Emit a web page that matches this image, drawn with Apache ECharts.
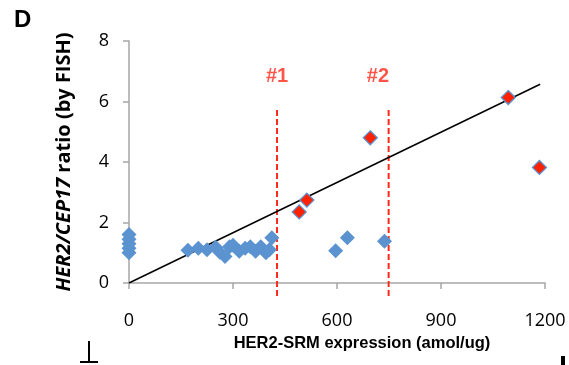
<!DOCTYPE html>
<html>
<head>
<meta charset="utf-8">
<script src="https://cdn.jsdelivr.net/npm/echarts@6/dist/echarts.min.js"></script>
<style>html,body{margin:0;padding:0;background:#fff}#c{width:569px;height:365px}</style>
</head>
<body>
<div id="c"></div>
<script>
// Data
const blueX = [0, 0, 0, 0, 0, 170, 200, 225, 250, 262, 277, 290, 300, 318, 335, 350, 365, 380, 395, 405, 412, 596, 630, 737];
const blueY = [1.0, 1.15, 1.3, 1.45, 1.6, 1.08, 1.15, 1.1, 1.18, 1.02, 0.88, 1.2, 1.25, 1.05, 1.15, 1.2, 1.05, 1.2, 1.0, 1.1, 1.5, 1.07, 1.5, 1.38];
const redX = [491, 513, 696, 1094, 1184];
const redY = [2.35, 2.74, 4.8, 6.13, 3.82];
const trendX = [0, 1186];
const trendY = [0, 6.57];
const cutoffX = [427, 749];
const cutoffTop = 5.72;
const cutoffBottom = -0.47;
const cutoffLabels = ['#1', '#2'];
const cutoffLabelX = [427, 718];
const cutoffLabelY = 6.84;
const xTicks = [0, 300, 600, 900, 1200];
const yTicks = [0, 2, 4, 6, 8];

const blueColor = '#5a93cf';
const redColor = '#ff2200';
const dashRed = '#ff2a1a';

const chart = echarts.init(document.getElementById('c'), null, {renderer: 'canvas'});
const series = [
  {
    type: 'line', data: trendX.map((x, i) => [x, trendY[i]]),
    symbol: 'none', lineStyle: {color: '#000', width: 1.5}, z: 3, silent: true
  },
  {
    type: 'scatter', data: blueX.map((x, i) => [x, blueY[i]]),
    symbol: 'diamond', symbolSize: 15,
    itemStyle: {color: blueColor, opacity: 1}, z: 4
  },
  {
    type: 'scatter', data: redX.map((x, i) => [x, redY[i]]),
    symbol: 'diamond', symbolSize: 14,
    itemStyle: {color: redColor, borderColor: blueColor, borderWidth: 1.3, opacity: 1}, z: 5
  },
  {
    type: 'scatter', data: cutoffLabels.map((t, i) => ({value: [cutoffLabelX[i], cutoffLabelY], name: t})),
    symbolSize: 0, silent: true,
    label: {show: true, position: 'inside', formatter: p => p.name, color: dashRed,
      fontFamily: 'Liberation Sans, Arial', fontWeight: 'bold', fontSize: 20}
  }
];
cutoffX.forEach(x => {
  series.push({
    type: 'line', data: [[x, cutoffTop], [x, cutoffBottom]], symbol: 'none', clip: false,
    lineStyle: {color: dashRed, width: 2, type: [6, 3]}, z: 2, silent: true
  });
});

chart.setOption({
  animation: false,
  backgroundColor: '#fff',
  grid: {left: 129, right: 24, top: 41, bottom: 82, containLabel: false},
  xAxis: {
    type: 'value', min: 0, max: 1200, interval: 300,
    name: 'HER2-SRM expression (amol/ug)', nameLocation: 'middle', nameGap: 50,
    nameTextStyle: {fontFamily: 'Liberation Sans, Arial', fontWeight: 'bold', fontSize: 16.5, color: '#000', padding: [0, 0, 0, 50]},
    axisLine: {show: true, onZero: false, lineStyle: {color: '#a6a6a6', width: 1.5}},
    axisTick: {show: true, length: 6, lineStyle: {color: '#a6a6a6', width: 1.5}},
    axisLabel: {margin: 29, color: '#000', fontFamily: 'Open Sans', fontSize: 18,
      formatter: v => xTicks.includes(v) ? String(v) : ''},
    splitLine: {show: false}
  },
  yAxis: {
    type: 'value', min: 0, max: 8, interval: 2,
    name: '{i|HER2/CEP17} ratio (by FISH)', nameLocation: 'middle', nameGap: 55,
    nameTextStyle: {fontFamily: 'Open Sans', fontWeight: 'bold', fontSize: 20, color: '#000',
      rich: {i: {fontFamily: 'Open Sans', fontWeight: 'bold', fontStyle: 'italic', fontSize: 20, color: '#000'}}},
    axisLine: {show: true, lineStyle: {color: '#a6a6a6', width: 1.5}},
    axisTick: {show: true, length: 6, lineStyle: {color: '#a6a6a6', width: 1.5}},
    axisLabel: {margin: 20, color: '#000', fontFamily: 'Open Sans', fontSize: 18,
      formatter: v => yTicks.includes(v) ? String(v) : ''},
    splitLine: {show: false}
  },
  graphic: [
    {type: 'text', left: 14, top: 8, style: {text: 'D', fontFamily: 'Liberation Sans, Arial', fontWeight: 'bold', fontSize: 24, fill: '#000'}},
    {type: 'line', shape: {x1: 89, y1: 341, x2: 89, y2: 362}, style: {stroke: '#000', lineWidth: 2}},
    {type: 'line', shape: {x1: 80, y1: 362, x2: 98, y2: 362}, style: {stroke: '#000', lineWidth: 2}},
    {type: 'rect', shape: {x: 561, y: 356, width: 4, height: 9}, style: {fill: '#000'}}
  ],
  series: series
});
</script>
</body>
</html>
